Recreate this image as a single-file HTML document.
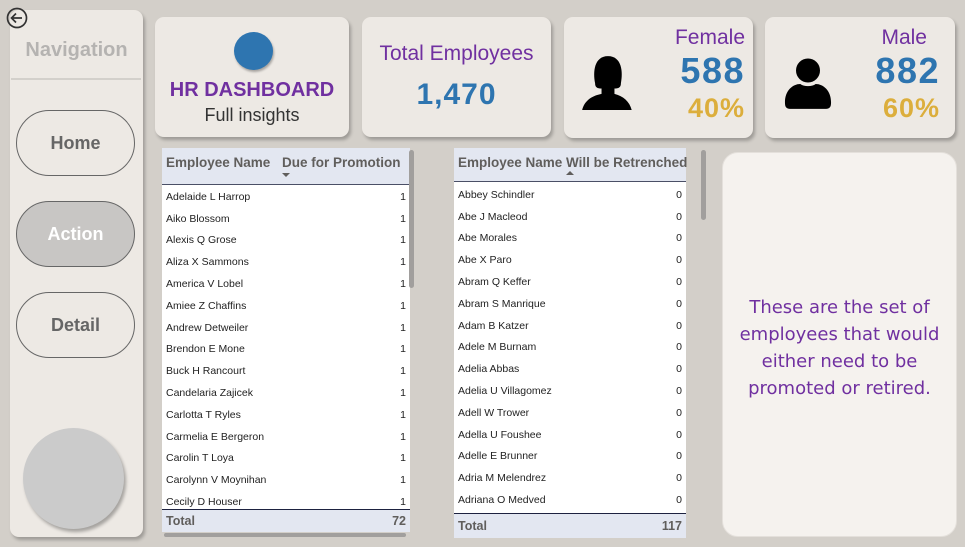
<!DOCTYPE html>
<html><head><meta charset="utf-8"><style>
*{box-sizing:border-box;margin:0;padding:0}
body{width:965px;height:547px;background:#d3cfc9;position:relative;overflow:hidden;font-family:"Liberation Sans",sans-serif}
.abs{position:absolute;white-space:nowrap}
.card{position:absolute;background:#ede9e4;border-radius:9px;box-shadow:2px 3px 3px rgba(0,0,0,0.25)}
.btn{position:absolute;left:16px;width:119px;height:66px;border:1.5px solid #666;border-radius:33px;font:bold 18px "Liberation Sans",sans-serif;color:#666;display:flex;align-items:center;justify-content:center}
.tbl{position:absolute;background:#fff;font-family:"Liberation Sans",sans-serif}
.hd{position:absolute;left:0;top:0;background:#e3e7f1;border-bottom:1.5px solid #4a4f66;font-weight:bold;color:#605e5c;font-size:13.5px}
.row{position:absolute;left:0;height:21.8px;font-size:10.5px;color:#222;display:flex;align-items:center;justify-content:space-between;padding:0 4px;white-space:nowrap}
.tot{position:absolute;left:0;background:#e3e7f1;border-top:1.5px solid #1d2240;font-weight:bold;color:#605e5c;font-size:12.5px;display:flex;align-items:center;justify-content:space-between;padding:0 4px}
</style></head><body>
<div class="card" style="left:10px;top:10px;width:133px;height:527px;">
  <div class="abs" style="left:0;width:133px;top:29px;text-align:center;font:bold 20px 'Liberation Sans',sans-serif;color:#b5b3b1">Navigation</div>
  <div class="abs" style="left:1px;width:130px;top:68px;height:2px;background:#d3d0cb"></div>
</div>
<svg class="abs" style="left:6px;top:7px" width="24" height="24" viewBox="0 0 24 24"><circle cx="11" cy="11" r="9.5" fill="none" stroke="#333" stroke-width="1.7"/><path d="M16 11H6M10 6.5L5.5 11 10 15.5" fill="none" stroke="#333" stroke-width="1.7"/></svg>
<div class="btn" style="top:110px">Home</div>
<div class="btn" style="top:201px;background:#c8c6c4;color:#fff">Action</div>
<div class="btn" style="top:292px">Detail</div>
<div class="abs" style="left:23px;top:428px;width:101px;height:101px;border-radius:50%;background:#cbcbcb;box-shadow:2px 3px 3px rgba(0,0,0,0.3)"></div>

<div class="card" style="left:155px;top:17px;width:194px;height:120px">
  <div class="abs" style="left:79px;top:15px;width:39px;height:38px;border-radius:50%;background:#2e75b0;box-shadow:1px 2px 2px rgba(0,0,0,0.3)"></div>
  <div class="abs" style="left:0;width:194px;top:62px;text-align:center;font:bold 20px 'Liberation Sans',sans-serif;color:#7030a0">HR DASHBOARD</div>
  <div class="abs" style="left:0;width:194px;top:88px;text-align:center;font:18px 'Liberation Sans',sans-serif;color:#333">Full insights</div>
</div>
<div class="card" style="left:362px;top:17px;width:189px;height:120px">
  <div class="abs" style="left:0;width:189px;top:25px;text-align:center;font:21px 'Liberation Sans',sans-serif;color:#7030a0">Total Employees</div>
  <div class="abs" style="left:0;width:189px;top:61px;text-align:center;font:bold 30px 'Liberation Sans',sans-serif;color:#2e75b0;letter-spacing:1px">1,470</div>
</div>
<div class="card" style="left:564px;top:17px;width:189px;height:121px">
  <svg class="abs" style="left:16px;top:34px" width="56" height="62" viewBox="0 0 52 54"><path d="M14 28 C12 18 13 3 26 3 C39 3 40 18 38 28 C38 32 36 33 32 33 L32 38 C40 40 46 45 48 53 L2 53 C4 45 10 40 20 38 L20 33 C16 33 14 32 14 28Z" fill="#000"/></svg>
  <div class="abs" style="right:8px;top:9px;font:21px 'Liberation Sans',sans-serif;color:#7030a0">Female</div>
  <div class="abs" style="right:8px;top:33px;font:bold 36px 'Liberation Sans',sans-serif;color:#2e75b0;letter-spacing:1.5px">588</div>
  <div class="abs" style="right:8px;top:76px;font:bold 27px 'Liberation Sans',sans-serif;color:#dcae3c;letter-spacing:1px">40%</div>
</div>
<div class="card" style="left:765px;top:17px;width:190px;height:121px">
  <svg class="abs" style="left:19px;top:37px" width="48" height="58" viewBox="0 0 50 56"><circle cx="25" cy="15" r="12.5" fill="#000"/><path d="M8 55 C2 55 1 53 1 48 C1 36 9 29 17 29 C21 32 29 32 33 29 C41 29 49 36 49 48 C49 53 48 55 42 55Z" fill="#000"/></svg>
  <div class="abs" style="right:28px;top:9px;font:21px 'Liberation Sans',sans-serif;color:#7030a0">Male</div>
  <div class="abs" style="right:15px;top:33px;font:bold 36px 'Liberation Sans',sans-serif;color:#2e75b0;letter-spacing:1.5px">882</div>
  <div class="abs" style="right:15px;top:76px;font:bold 27px 'Liberation Sans',sans-serif;color:#dcae3c;letter-spacing:1px">60%</div>
</div>

<div class="tbl" style="left:162px;top:148px;width:248px;height:384px">
  <div class="hd" style="width:248px;height:37px">
    <div class="abs" style="left:4px;top:7px">Employee Name</div>
    <div class="abs" style="left:120px;top:7px">Due for Promotion</div>
    <div class="abs" style="left:120px;top:25px;width:0;height:0;border-left:4px solid transparent;border-right:4px solid transparent;border-top:4px solid #605e5c"></div>
  </div>
  <div id="t1rows"></div>
  <div class="tot" style="top:361px;width:248px;height:23px"><span>Total</span><span>72</span></div>
</div>
<div class="abs" style="left:409px;top:150px;width:5px;height:138px;background:#a19f9d;border-radius:3px"></div>
<div class="abs" style="left:164px;top:533px;width:242px;height:4px;background:#a19f9d;border-radius:3px"></div>

<div class="tbl" style="left:454px;top:148px;width:232px;height:390px">
  <div class="hd" style="width:232px;height:34px">
    <div class="abs" style="left:4px;top:7px">Employee Name</div>
    <div class="abs" style="left:112px;top:7px">Will be Retrenched</div>
    <div class="abs" style="left:112px;top:23px;width:0;height:0;border-left:4px solid transparent;border-right:4px solid transparent;border-bottom:4px solid #605e5c"></div>
  </div>
  <div id="t2rows"></div>
  <div class="tot" style="top:365px;width:232px;height:25px"><span>Total</span><span>117</span></div>
</div>
<div class="abs" style="left:701px;top:150px;width:5px;height:70px;background:#a19f9d;border-radius:3px"></div>

<div class="abs" style="left:722px;top:152px;width:235px;height:385px;background:#f5f2ee;border-radius:16px;border:1px solid #e4e0db;white-space:normal">
  <div class="abs" style="left:0;width:233px;top:141px;text-align:center;font:18px/27px 'DejaVu Sans','Liberation Sans',sans-serif;color:#7030a0;white-space:normal">These are the set of employees that would either need to be promoted or retired.</div>
</div>

<script>
const promoNames=["Adelaide L Harrop","Aiko Blossom","Alexis Q Grose","Aliza X Sammons","America V Lobel","Amiee Z Chaffins","Andrew Detweiler","Brendon E Mone","Buck H Rancourt","Candelaria Zajicek","Carlotta T Ryles","Carmelia E Bergeron","Carolin T Loya","Carolynn V Moynihan","Cecily D Houser"];
const promoValues=[1,1,1,1,1,1,1,1,1,1,1,1,1,1,1];
const retrNames=["Abbey Schindler","Abe J Macleod","Abe Morales","Abe X Paro","Abram Q Keffer","Abram S Manrique","Adam B Katzer","Adele M Burnam","Adelia Abbas","Adelia U Villagomez","Adell W Trower","Adella U Foushee","Adelle E Brunner","Adria M Melendrez","Adriana O Medved"];
const retrValues=[0,0,0,0,0,0,0,0,0,0,0,0,0,0,0];
function fill(id,names,vals,top,w,pref,maxBottom){
  const c=document.getElementById(id);
  names.forEach((n,i)=>{
    const y=top+i*21.8;
    if(y+10>maxBottom)return;
    const r=document.createElement('div');
    r.className='row';
    
    
    r.style.top=y+'px';r.style.width=w+'px';
    r.innerHTML='<span>'+n+'</span><span>'+vals[i]+'</span>';
    c.appendChild(r);
  });
}
fill('t1rows',promoNames,promoValues,38,248,'promotion',362);
fill('t2rows',retrNames,retrValues,36,232,'retrenchment',366);
</script>
</body></html>
